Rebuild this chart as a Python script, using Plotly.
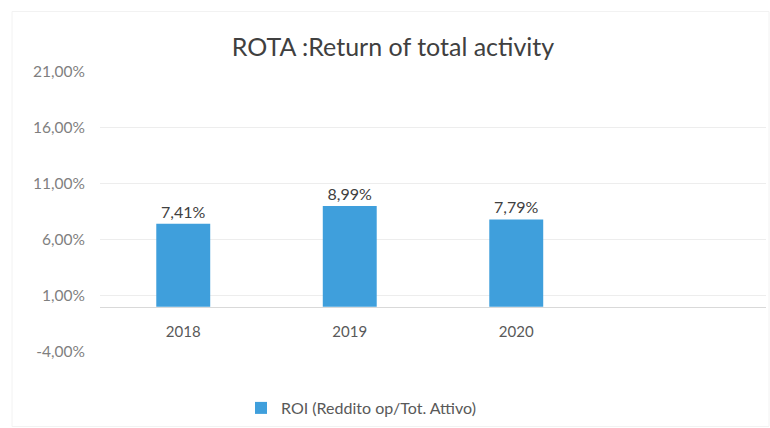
import plotly.graph_objects as go

# ROI per year (fraction of total assets)
years = ["2018", "2019", "2020"]
roi = [0.0741, 0.0899, 0.0779]
series_name = "ROI (Reddito op/Tot. Attivo)"
chart_title = "ROTA :Return of total activity"

# value-axis ticks and their labels (Italian number format)
y_ticks = [-0.04, 0.01, 0.06, 0.11, 0.16, 0.21]
y_tick_labels = ["-4,00%", "1,00%", "6,00%", "11,00%", "16,00%", "21,00%"]

y_min, y_max = -0.0405, 0.2105
font_family = "Lato, 'Open Sans', sans-serif"

fig = go.Figure()
fig.add_trace(go.Bar(
    x=years,
    y=roi,
    name=series_name,
    marker=dict(color="#3F9FDC", line=dict(width=0)),
    texttemplate="%{y:.2%}",
    textposition="outside",
    textfont=dict(size=16, color="#404040", family=font_family),
    cliponaxis=False,
    showlegend=True,
))

# x axis sits on the zero line of the value axis
zero_pos = (0 - y_min) / (y_max - y_min)

fig.update_layout(
    width=770,
    height=428,
    separators=",.",
    paper_bgcolor="white",
    plot_bgcolor="white",
    margin=dict(l=100, r=4, t=71, b=76),
    bargap=0.676,
    title=dict(
        text=chart_title,
        x=393 / 770, xref="container", xanchor="center",
        y=1 - 47 / 428, yref="container", yanchor="middle",
        font=dict(size=25, color="#404040", family=font_family),
    ),
    xaxis=dict(
        type="category",
        range=[-0.5, 3.5],
        anchor="free",
        position=zero_pos,
        showline=True,
        linecolor="#D9D9D9",
        linewidth=1,
        showgrid=False,
        ticks="",
        tickfont=dict(size=15, color="#595959", family=font_family),
        ticklabelstandoff=11,
    ),
    yaxis=dict(
        range=[y_min, y_max],
        tickmode="array",
        tickvals=y_ticks,
        ticktext=y_tick_labels,
        showgrid=True,
        gridcolor="#EDEDED",
        gridwidth=1,
        zeroline=False,
        showline=False,
        ticks="",
        tickfont=dict(size=15.5, color="#7F7F7F", family=font_family),
        ticklabelstandoff=14,
    ),
    legend=dict(
        orientation="h",
        x=361 / 770, xref="container", xanchor="center",
        y=1 - 408 / 428, yref="container", yanchor="middle",
        font=dict(size=16, color="#595959", family=font_family),
        itemwidth=30,
    ),
    shapes=[dict(
        type="rect", xref="paper", yref="paper",
        x0=(12 - 100) / 666, x1=(769 - 100) / 666,
        y0=-(427 - 352.5) / 281, y1=1 + (71.5 - 12) / 281,
        line=dict(color="#F2F2F2", width=1),
        layer="below",
    )],
)

fig.write_html("out.html")
